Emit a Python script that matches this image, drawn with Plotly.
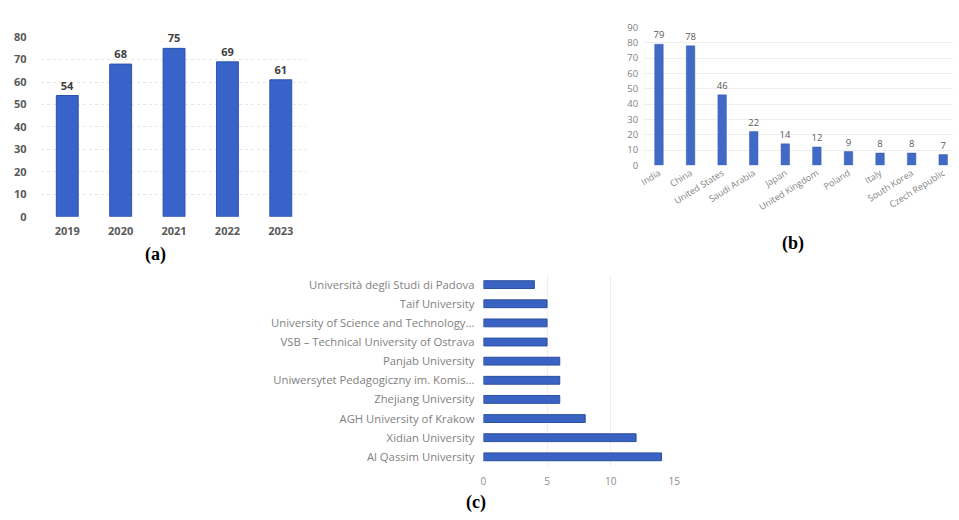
import plotly.graph_objects as go

W, H = 959, 520

# ---- data ----
years = ["2019", "2020", "2021", "2022", "2023"]
year_counts = [54, 68, 75, 69, 61]

countries = ["India", "China", "United States", "Saudi Arabia", "Japan",
             "United Kingdom", "Poland", "Italy", "South Korea", "Czech Republic"]
country_counts = [79, 78, 46, 22, 14, 12, 9, 8, 8, 7]

universities = ["Al Qassim University", "Xidian University", "AGH University of Krakow",
                "Zhejiang University", "Uniwersytet Pedagogiczny im. Komis...",
                "Panjab University", "VSB – Technical University of Ostrava",
                "University of Science and Technology...", "Taif University",
                "Università degli Studi di Padova"]
university_counts = [14, 12, 8, 6, 6, 6, 5, 5, 5, 4]

panel_labels = ["(a)", "(b)", "(c)"]


def fx(px):
    return px / W


def fy(py):
    return 1 - py / H


fig = go.Figure()

# (a)
fig.add_trace(go.Bar(
    x=years, y=year_counts, xaxis="x", yaxis="y",
    marker=dict(color="#3864c9", line=dict(color="#2b52ad", width=1)),
    width=0.41, text=year_counts, textposition="outside", cliponaxis=False,
    constraintext="none",
    textfont=dict(family="Open Sans", size=11, color="#404040", weight="bold"),
    showlegend=False,
))

# (b)
fig.add_trace(go.Bar(
    x=countries, y=country_counts, xaxis="x2", yaxis="y2",
    marker=dict(color="#4169c6", line=dict(color="#3a5fb5", width=0.5)),
    width=0.27, text=country_counts, textposition="outside", cliponaxis=False,
    constraintext="none",
    textfont=dict(family="Open Sans", size=9.5, color="#595959"),
    showlegend=False,
))

# (c)
fig.add_trace(go.Bar(
    x=university_counts, y=universities, orientation="h", xaxis="x3", yaxis="y3",
    marker=dict(color="#3a62c2", line=dict(color="#2c4f9f", width=1)),
    width=0.41, showlegend=False,
))

grid = "#e6e6e6"
fig.update_layout(
    width=W, height=H,
    margin=dict(l=0, r=0, t=0, b=0),
    paper_bgcolor="white", plot_bgcolor="white",
    font=dict(family="Open Sans", color="#595959"),
    xaxis=dict(domain=[fx(36), fx(306)], anchor="y", showgrid=False, zeroline=False,
               showline=False, ticks="", ticklabelstandoff=6,
               tickfont=dict(size=11, color="#595959", weight="bold")),
    yaxis=dict(domain=[fy(215), fy(30)], anchor="x", range=[0, 80], dtick=10,
               showgrid=True, gridcolor=grid, griddash="dot", zeroline=False,
               ticks="", ticklabelstandoff=13,
               tickfont=dict(size=11, color="#595959", weight="bold")),
    xaxis2=dict(domain=[fx(645.6), 1.0], anchor="y2", range=[-0.5, 9.31],
                showgrid=False, zeroline=False, tickangle=-32, ticks="",
                tickfont=dict(size=9, color="#7f7f7f")),
    yaxis2=dict(domain=[fy(162), fy(20)], anchor="x2", range=[0, 90], dtick=10,
                showgrid=True, gridcolor="#efefef", zeroline=False, ticks="",
                ticklabelstandoff=4,
                tickfont=dict(size=9.5, color="#7f7f7f")),
    xaxis3=dict(domain=[fx(484), fx(677)], anchor="y3", range=[0, 15], dtick=5,
                showgrid=True, gridcolor="#eeeeee", zeroline=False, ticks="",
                ticklabelstandoff=8,
                tickfont=dict(size=10, color="#8c8c8c")),
    yaxis3=dict(domain=[fy(472), fy(275)], anchor="x3", showgrid=False, zeroline=False,
                ticks="", ticklabelstandoff=8, tickfont=dict(size=11.3, color="#7f7f7f")),
)

for lab, (px, py) in zip(panel_labels, [(152, 254), (797, 243), (476, 509)]):
    fig.add_annotation(text=lab, x=fx(px), y=fy(py), xref="paper", yref="paper",
                       showarrow=False, xanchor="center", yanchor="middle",
                       font=dict(family="Liberation Serif", size=18, color="black",
                                 weight="bold"))

fig.write_html("out.html")
